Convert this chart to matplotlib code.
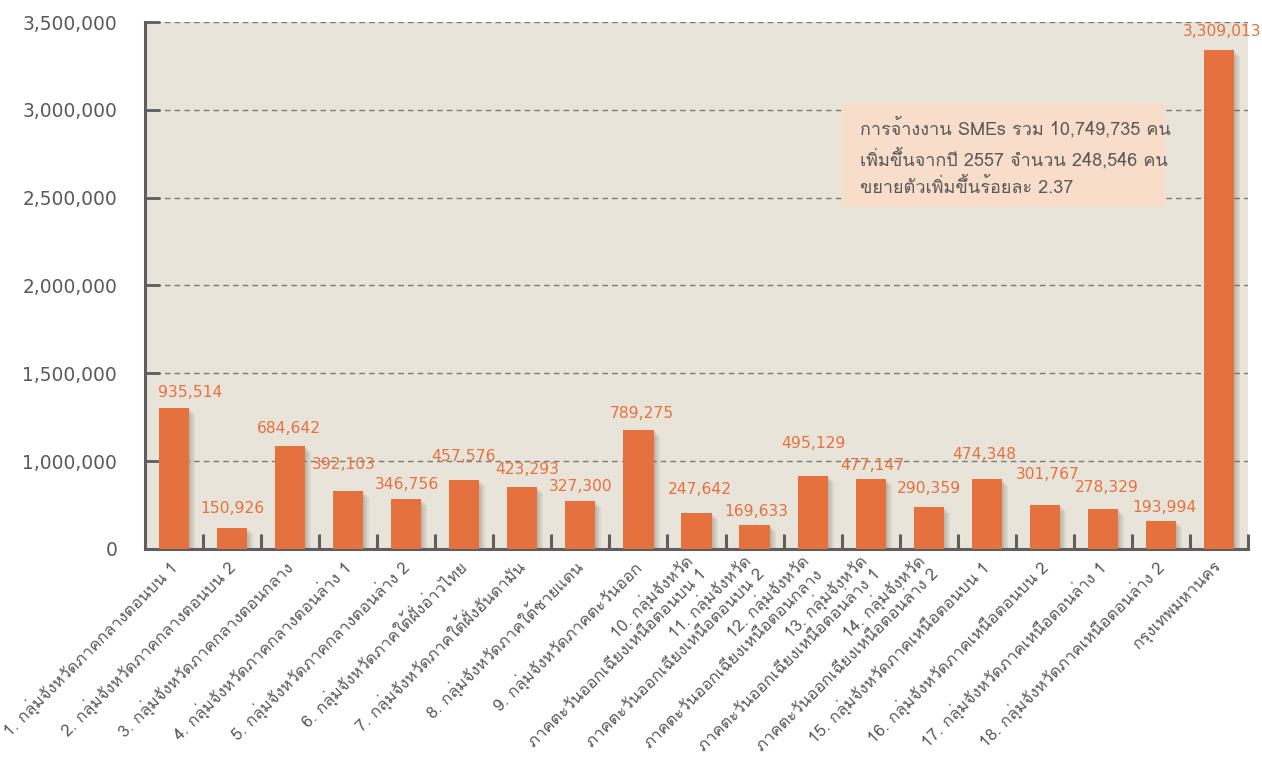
#!/usr/bin/env python
# -*- coding: utf-8 -*-
# SMEs employment by provincial cluster - bar chart

import matplotlib
matplotlib.use("Agg")
from matplotlib import pyplot as plt
from matplotlib import ticker
from matplotlib import transforms
from matplotlib.patches import Rectangle

plt.rcParams['font.family'] = ['Loma', 'DejaVu Sans']
NUM_FONT = ['DejaVu Sans', 'Loma']

#------------------------------------------------------------------------------
# data
#------------------------------------------------------------------------------
categories = [
    "1. กลุ่มจังหวัดภาคกลางตอนบน 1",
    "2. กลุ่มจังหวัดภาคกลางตอนบน 2",
    "3. กลุ่มจังหวัดภาคกลางตอนกลาง",
    "4. กลุ่มจังหวัดภาคกลางตอนล่าง 1",
    "5. กลุ่มจังหวัดภาคกลางตอนล่าง 2",
    "6. กลุ่มจังหวัดภาคใต้ฝั่งอ่าวไทย",
    "7. กลุ่มจังหวัดภาคใต้ฝั่งอันดามัน",
    "8. กลุ่มจังหวัดภาคใต้ชายแดน",
    "9. กลุ่มจังหวัดภาคตะวันออก",
    "10. กลุ่มจังหวัด\nภาคตะวันออกเฉียงเหนือตอนบน 1",
    "11. กลุ่มจังหวัด\nภาคตะวันออกเฉียงเหนือตอนบน 2",
    "12. กลุ่มจังหวัด\nภาคตะวันออกเฉียงเหนือตอนกลาง",
    "13. กลุ่มจังหวัด\nภาคตะวันออกเฉียงเหนือตอนล่าง 1",
    "14. กลุ่มจังหวัด\nภาคตะวันออกเฉียงเหนือตอนล่าง 2",
    "15. กลุ่มจังหวัดภาคเหนือตอนบน 1",
    "16. กลุ่มจังหวัดภาคเหนือตอนบน 2",
    "17. กลุ่มจังหวัดภาคเหนือตอนล่าง 1",
    "18. กลุ่มจังหวัดภาคเหนือตอนล่าง 2",
    "กรุงเทพมหานคร",
]

# bar heights as drawn on the value axis
bar_heights = [1300000, 621000, 1084000, 833000, 787000, 890000, 855000,
               776000, 1175000, 707000, 639000, 918000, 901000, 741000,
               901000, 753000, 730000, 661000, 3341000]

# printed value labels
value_labels = ["935,514", "150,926", "684,642", "392,103", "346,756",
                "457,576", "423,293", "327,300", "789,275", "247,642",
                "169,633", "495,129", "477,147", "290,359", "474,348",
                "301,767", "278,329", "193,994", "3,309,013"]

y_ticks = [500000, 1000000, 1500000, 2000000, 2500000, 3000000, 3500000]
y_tick_labels = ["0", "1,000,000", "1,500,000", "2,000,000", "2,500,000",
                 "3,000,000", "3,500,000"]

note_lines = ["การจ้างงาน SMEs รวม 10,749,735 คน",
              "เพิ่มขึ้นจากปี 2557 จำนวน 248,546 คน",
              "ขยายตัวเพิ่มขึ้นร้อยละ 2.37"]

# label offsets in pixels from the bar top (layout only)
label_dx = [16, 0, -1, -4, 1, -1, 5, 0, 3, 3, 2, 1, 2, 0, -3, 3, 4, 4, 3]
label_dy = [16, 19, 18, 26, 14, 24, 17, 14, 17, 23, 13, 32, 13, 18, 24, 30,
            21, 13, 18]

#------------------------------------------------------------------------------
# style
#------------------------------------------------------------------------------
BAR = "#E5713F"
BG = "#E8E4DA"
AXIS = "#5E5E5E"
TEXT = "#595959"


def main():
    fig = plt.figure(figsize=(12.62, 7.69), dpi=100)
    ax = fig.add_axes([145/1262, 1-549/769, 1103/1262, 527/769])
    ax.set_facecolor(BG)

    x = list(range(len(categories)))

    # soft shadow behind the bars
    for k, a in ((6, 0.10), (4, 0.12), (2, 0.14)):
        sh = transforms.ScaledTranslation(k/100, -k/100, fig.dpi_scale_trans)
        ax.bar(x, bar_heights, width=0.52, color="#6b6250", alpha=a,
               transform=ax.transData + sh, zorder=2, linewidth=0)
    ax.bar(x, bar_heights, width=0.52, color=BAR, zorder=3, linewidth=0)

    for i, (h, lab) in enumerate(zip(bar_heights, value_labels)):
        ax.annotate(lab, (i, h), xytext=(label_dx[i]*0.72, label_dy[i]*0.72),
                    textcoords="offset points", ha="center", va="center",
                    color=BAR, fontsize=11.2, family=NUM_FONT, zorder=5)

    ax.set_xlim(-0.5, len(categories) - 0.5)
    ax.set_ylim(500000, 3500000)

    ax.set_yticks(y_ticks)
    ax.set_yticklabels(y_tick_labels, family=NUM_FONT)
    ax.yaxis.grid(True, linestyle=(0, (4, 3)), color="#7a7a7a", linewidth=1)
    ax.set_axisbelow(True)

    ax.set_xticks(x)
    ax.set_xticklabels(categories, rotation=45, ha="right", va="center",
                       rotation_mode="anchor", multialignment="right")
    ax.xaxis.set_minor_locator(ticker.FixedLocator(
        [i + 0.5 for i in x]))

    ax.tick_params(axis="x", which="major", length=0, pad=11,
                   labelsize=12, labelcolor=TEXT)
    ax.tick_params(axis="x", which="minor", direction="in", length=11,
                   width=2.2, color=AXIS)
    ax.tick_params(axis="y", direction="in", length=11, width=2,
                   color=AXIS, pad=20, labelsize=13.4, labelcolor=TEXT)

    for s in ("top", "right"):
        ax.spines[s].set_visible(False)
    for s in ("left", "bottom"):
        ax.spines[s].set_color(AXIS)
        ax.spines[s].set_linewidth(2.2)

    # note box
    ax.add_patch(Rectangle((0.632, 0.649), 0.293, 0.197,
                           transform=ax.transAxes, facecolor="#F8DDCB",
                           edgecolor="none", zorder=4))
    ax.text(0.648, 0.745, "\n".join(note_lines), transform=ax.transAxes,
            ha="left", va="center", fontsize=13, color=TEXT,
            linespacing=1.55, zorder=5)

    fig.savefig("out.png", dpi=100, facecolor="white")


if __name__ == '__main__':
    main()
